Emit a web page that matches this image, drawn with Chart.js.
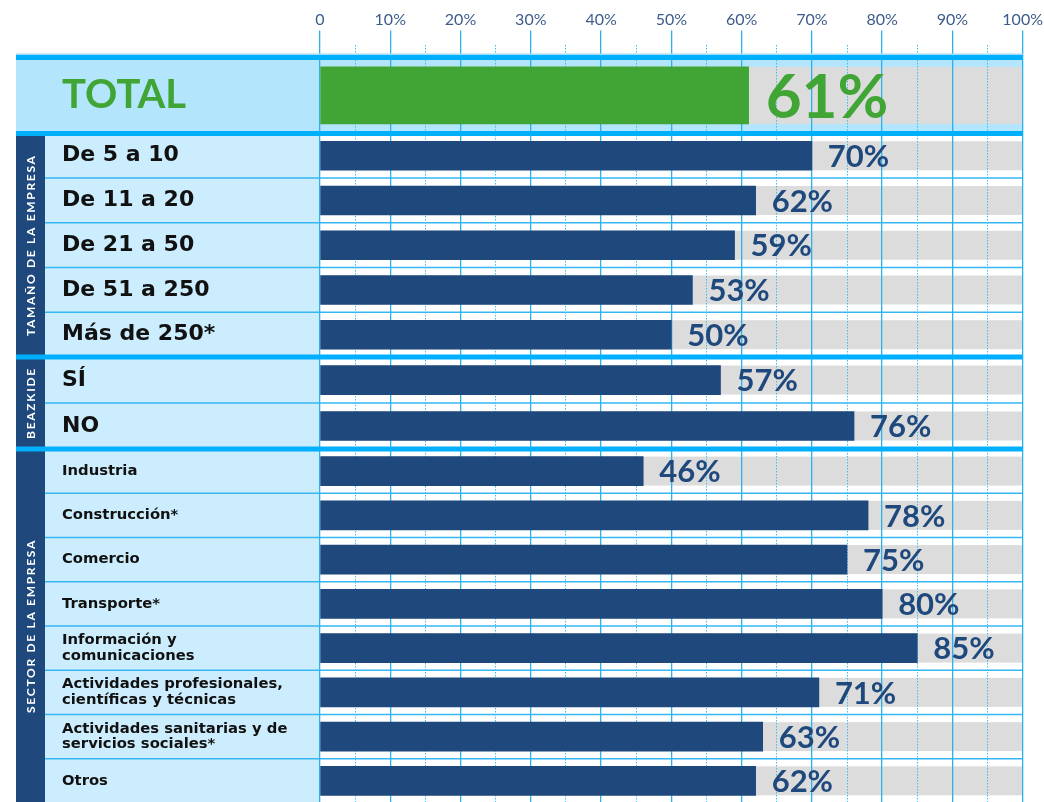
<!DOCTYPE html>
<html>
<head>
<meta charset="utf-8">
<script src="https://cdn.jsdelivr.net/npm/chart.js@4.4.1/dist/chart.umd.min.js"></script>
<style>
    html, body { margin: 0; padding: 0; background: #fff; overflow: hidden; }
    #wrap { position: relative; width: 1044px; height: 806px; }
</style>
</head>
<body>
<div id="wrap"><canvas id="chart"></canvas></div>
<script>
// ============================
// DATOS
// ============================
const totalLabels = ["TOTAL"];
const totalValues = [61];

const sizeLabels = ["De 5 a 10", "De 11 a 20", "De 21 a 50", "De 51 a 250", "Más de 250*"];
const sizeValues = [70, 62, 59, 53, 50];

const beazkideLabels = ["SÍ", "NO"];
const beazkideValues = [57, 76];

const sectorLabels = [
    "Industria",
    "Construcción*",
    "Comercio",
    "Transporte*",
    ["Información y", "comunicaciones"],
    ["Actividades profesionales,", "científicas y técnicas"],
    ["Actividades sanitarias y de", "servicios sociales*"],
    "Otros"
];
const sectorValues = [46, 78, 75, 80, 85, 71, 63, 62];

const sectionTitles = ["TAMAÑO DE LA EMPRESA", "BEAZKIDE", "SECTOR DE LA EMPRESA"];
const xTickLabels = ["0", "10%", "20%", "30%", "40%", "50%", "60%", "70%", "80%", "90%", "100%"];

const GREEN = "#40a535";
const NAVY = "#1f497d";
const FONT = "Lato";
const LABEL_FONT = "'DejaVu Sans'";

// ============================
// FONDOS, PISTAS Y SEPARADORES
// ============================
const backdrop = {
    id: "backdrop",
    beforeDraw(chart) {
        const { ctx, chartArea, scales } = chart;
        const x = scales.x;
        const left = 16, strip = 45, right = chartArea.right;

        ctx.save();
        const yt = scales.yTotal;
        ctx.fillStyle = "#b3e5fc";
        ctx.fillRect(left, yt.top, right - left, yt.bottom - yt.top);

        ["ySize", "yBeaz", "ySector"].forEach(function (id, k) {
            const s = scales[id];
            ctx.fillStyle = NAVY;
            ctx.fillRect(left, s.top, strip - left, s.bottom - s.top);
            ctx.fillStyle = "#ccedfd";
            ctx.fillRect(strip, s.top, chartArea.left - strip, s.bottom - s.top);

            ctx.save();
            ctx.translate((left + strip) / 2 + 0.5, (s.top + s.bottom) / 2);
            ctx.rotate(-Math.PI / 2);
            ctx.fillStyle = "#fff";
            ctx.font = "bold 12px " + FONT;
            ctx.letterSpacing = "1.7px";
            ctx.textAlign = "center";
            ctx.textBaseline = "middle";
            ctx.fillText(sectionTitles[k], 0, 0);
            ctx.restore();
        });

        // pistas grises
        const x0 = x.getPixelForValue(0), x1 = x.getPixelForValue(100);
        chart.data.datasets.forEach(function (ds, i) {
            chart.getDatasetMeta(i).data.forEach(function (bar) {
                ctx.fillStyle = "#dcdcdc";
                ctx.fillRect(x0, bar.y - bar.height / 2, x1 - x0, bar.height);
            });
        });

        // separadores finos
        ctx.strokeStyle = "#35b7f2";
        ctx.lineWidth = 1.5;
        ["ySize", "yBeaz", "ySector"].forEach(function (id) {
            const s = scales[id];
            const n = s.getLabels().length;
            for (let i = 1; i < n; i++) {
                const y = (s.getPixelForValue(i - 1) + s.getPixelForValue(i)) / 2;
                ctx.beginPath();
                ctx.moveTo(strip, y);
                ctx.lineTo(right, y);
                ctx.stroke();
            }
        });
        ctx.restore();
    },
    beforeDatasetsDraw(chart) {
        const { ctx, chartArea, scales } = chart;
        const ys = [scales.yTotal.top, scales.yTotal.bottom, scales.ySize.bottom, scales.yBeaz.bottom];
        ctx.save();
        ctx.strokeStyle = "#9fdcf8";
        ctx.lineWidth = 1.5;
        ctx.beginPath();
        ctx.moveTo(16, ys[0] - 3.3);
        ctx.lineTo(chartArea.right, ys[0] - 3.3);
        ctx.stroke();
        ctx.strokeStyle = "#00b0ff";
        ctx.lineWidth = 5;
        ys.forEach(function (y) {
            ctx.beginPath();
            ctx.moveTo(16, y);
            ctx.lineTo(chartArea.right, y);
            ctx.stroke();
        });
        ctx.restore();
    }
};

// ============================
// ETIQUETAS DE VALOR
// ============================
const valueLabels = {
    id: "valueLabels",
    afterDatasetsDraw(chart) {
        const ctx = chart.ctx;
        ctx.save();
        ctx.textAlign = "left";
        ctx.textBaseline = "alphabetic";
        chart.data.datasets.forEach(function (ds, i) {
            const isTotal = ds.yAxisID === "yTotal";
            const size = isTotal ? 62 : 31;
            ctx.font = "bold " + size + "px " + FONT;
            ctx.fillStyle = isTotal ? GREEN : NAVY;
            chart.getDatasetMeta(i).data.forEach(function (bar, j) {
                ctx.fillText(ds.data[j] + "%", bar.x + (isTotal ? 17 : 16), bar.y + size * 0.36);
            });
        });
        ctx.restore();
    }
};

function rowAxis(labels, family, fontSize, color, weight, order) {
    return {
        type: "category",
        labels: labels,
        position: "left",
        stack: "rows",
        stackWeight: weight,
        weight: order,
        offset: true,
        grid: { display: false, offset: true },
        border: { display: false },
        ticks: {
            autoSkip: false,
            crossAlign: "far",
            padding: 0,
            color: color,
            font: { family: family, size: fontSize, weight: "bold", lineHeight: 1.07 }
        },
        afterFit: function (scale) {
            scale.width = 258;
            scale.paddingTop = 0;
            scale.paddingBottom = 0;
        }
    };
}

function isMinor(c) {
    return c.tick && c.tick.value % 10 !== 0;
}

const ctx = document.getElementById("chart");
new Chart(ctx, {
    type: "bar",
    data: {
        datasets: [
            { data: totalValues, yAxisID: "yTotal", backgroundColor: GREEN, barThickness: 57, grouped: false },
            { data: sizeValues, yAxisID: "ySize", backgroundColor: NAVY, barThickness: 29, grouped: false },
            { data: beazkideValues, yAxisID: "yBeaz", backgroundColor: NAVY, barThickness: 29, grouped: false },
            { data: sectorValues, yAxisID: "ySector", backgroundColor: NAVY, barThickness: 29, grouped: false }
        ]
    },
    options: {
        indexAxis: "y",
        responsive: true,
        maintainAspectRatio: false,
        animation: false,
        layout: { padding: { top: 9.3, left: 62, right: 21, bottom: 3 } },
        plugins: { legend: { display: false }, tooltip: { enabled: false } },
        scales: {
            x: {
                position: "top",
                min: 0,
                max: 100,
                border: {
                    display: false,
                    dash: function (c) { return isMinor(c) ? [1.5, 1.5] : []; }
                },
                grid: {
                    color: function (c) { return isMinor(c) ? "#3fbdf5" : "#2ab2ef"; },
                    lineWidth: function (c) { return isMinor(c) ? 1 : 1.3; },
                    tickColor: function (c) { return isMinor(c) ? "rgba(0,0,0,0)" : "#2ab2ef"; },
                    tickLength: 14
                },
                ticks: {
                    stepSize: 5,
                    autoSkip: false,
                    maxRotation: 0,
                    padding: 1,
                    color: "#3d5c8a",
                    font: { family: FONT, size: 16 },
                    callback: function (v) { return v % 10 === 0 ? xTickLabels[v / 10] : ""; }
                }
            },
            ySpace: {
                type: "category",
                labels: [""],
                display: false,
                position: "left",
                stack: "rows",
                stackWeight: 13,
                weight: 5
            },
            yTotal: rowAxis(totalLabels, FONT, 40, GREEN, 76, 4),
            ySize: rowAxis(sizeLabels, LABEL_FONT, 22, "#111", 224, 3),
            yBeaz: rowAxis(beazkideLabels, LABEL_FONT, 22, "#111", 92, 2),
            ySector: rowAxis(sectorLabels, LABEL_FONT, 14.8, "#111", 354.5, 1)
        }
    },
    plugins: [backdrop, valueLabels]
});
</script>
</body>
</html>
